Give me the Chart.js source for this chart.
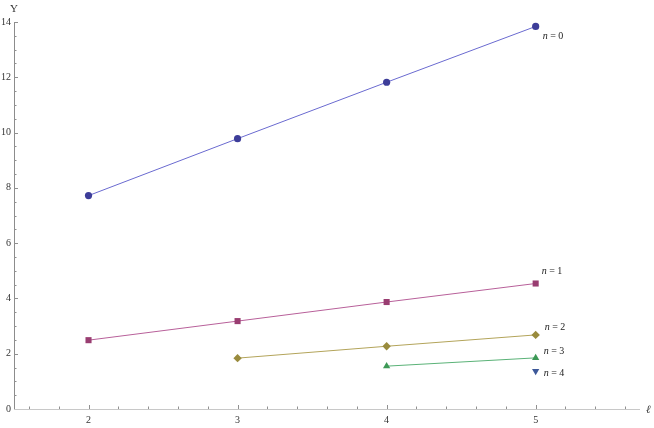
<!DOCTYPE html>
<html>
<head>
<meta charset="utf-8">
<script src="https://cdn.jsdelivr.net/npm/chart.js@4"></script>
<style>
  html, body { margin: 0; padding: 0; background: #ffffff; }
  #wrap { width: 654px; height: 428px; }
  canvas { display: block; }
</style>
</head>
<body>
<div id="wrap"><canvas id="c" width="654" height="428"></canvas></div>
<script>
// ---- data ----
const ellN0 = [2, 3, 4, 5];
const upsN0 = [7.72, 9.78, 11.82, 13.84];
const ellN1 = [2, 3, 4, 5];
const upsN1 = [2.49, 3.18, 3.87, 4.54];
const ellN2 = [3, 4, 5];
const upsN2 = [1.84, 2.27, 2.68];
const ellN3 = [4, 5];
const upsN3 = [1.55, 1.85];
const ellN4 = [5];
const upsN4 = [1.37];
const seriesLabels = ['0', '1', '2', '3', '4'];
const xTickLabels = [2, 3, 4, 5];
const yTickLabels = [0, 2, 4, 6, 8, 10, 12, 14];
const xAxisTitle = 'ℓ';
const yAxisTitle = 'Υ';

// ---- styles ----
const markerColors = ['#3d3d99', '#993d71', '#998b3d', '#3d9956', '#3d5899'];
const lineColors   = ['#6a6ad0', '#b8609a', '#b3a45a', '#5ab277', '#5a75b8'];
const markerStyles = ['circle', 'rect', 'rectRot', 'triangle', 'triangle'];
const markerRot    = [0, 0, 0, 0, 180];
const markerRad    = [3.6, 4.3, 4.2, 4.2, 4.2];
// label offsets in pixels from each series' last point
const labelOff = [[7, 10], [6, -12], [9, -8], [8, -6], [8, 2]];

const ells = [ellN0, ellN1, ellN2, ellN3, ellN4];
const upss = [upsN0, upsN1, upsN2, upsN3, upsN4];

const datasets = ells.map((xs, i) => ({
  label: 'n = ' + seriesLabels[i],
  data: xs.map((x, j) => ({ x: x, y: upss[i][j] })),
  borderColor: lineColors[i],
  borderWidth: 1,
  backgroundColor: markerColors[i],
  pointBackgroundColor: markerColors[i],
  pointBorderColor: markerColors[i],
  pointBorderWidth: 0,
  pointStyle: markerStyles[i],
  pointRotation: markerRot[i],
  pointRadius: markerRad[i],
  pointHoverRadius: markerRad[i],
  showLine: xs.length > 1,
  fill: false,
  tension: 0,
  clip: false
}));

const axisColor = '#a8a8a8';
const tickFont = '10px "Liberation Serif", "DejaVu Serif", serif';
const textColor = '#333333';

const axesPlugin = {
  id: 'mmaAxes',
  beforeDatasetsDraw(chart) {
    const ctx = chart.ctx;
    const xs = chart.scales.x, ys = chart.scales.y;
    const x0 = xs.getPixelForValue(xs.min);
    const x1 = xs.getPixelForValue(xs.max);
    const y0 = ys.getPixelForValue(0);
    const yTop = ys.getPixelForValue(ys.max);
    ctx.save();
    ctx.lineWidth = 1;
    // x axis
    ctx.strokeStyle = '#c8c8c8';
    ctx.beginPath();
    ctx.moveTo(x0, Math.round(y0) + 0.5);
    ctx.lineTo(x1, Math.round(y0) + 0.5);
    ctx.stroke();
    // y axis
    ctx.strokeStyle = '#8c8c8c';
    ctx.beginPath();
    ctx.moveTo(Math.round(x0) + 0.5, y0);
    ctx.lineTo(Math.round(x0) + 0.5, yTop);
    ctx.stroke();
    // x ticks every 0.2
    ctx.strokeStyle = '#909090';
    for (let k = 8; k <= 28; k++) {
      const v = k / 5;
      const px = Math.round(xs.getPixelForValue(v)) + 0.5;
      const major = (k % 5 === 0);
      ctx.beginPath();
      ctx.moveTo(px, y0);
      ctx.lineTo(px, y0 - (major ? 4 : 2.5));
      ctx.stroke();
    }
    // y ticks every 0.5
    for (let k = 1; k <= 28; k++) {
      const v = k / 2;
      const py = Math.round(ys.getPixelForValue(v)) + 0.5;
      const major = (k % 4 === 0);
      ctx.beginPath();
      ctx.moveTo(x0, py);
      ctx.lineTo(x0 + (major ? 4 : 2.5), py);
      ctx.stroke();
    }
    // tick labels
    ctx.fillStyle = textColor;
    ctx.font = tickFont;
    ctx.textAlign = 'center';
    ctx.textBaseline = 'top';
    xTickLabels.forEach(v => {
      ctx.fillText(String(v), xs.getPixelForValue(v), y0 + 6);
    });
    ctx.textAlign = 'right';
    ctx.textBaseline = 'middle';
    yTickLabels.forEach(v => {
      ctx.fillText(String(v), x0 - 3, ys.getPixelForValue(v));
    });
    // axis titles
    ctx.font = '11px "Liberation Serif", "DejaVu Serif", serif';
    ctx.textAlign = 'center';
    ctx.textBaseline = 'middle';
    ctx.fillText(yAxisTitle, x0, yTop - 13);
    ctx.font = 'italic 11px "Liberation Serif", "DejaVu Serif", serif';
    ctx.textAlign = 'left';
    ctx.fillText(xAxisTitle, x1 + 6, y0 + 1);
    ctx.restore();
  },
  afterDatasetsDraw(chart) {
    const ctx = chart.ctx;
    const xs = chart.scales.x, ys = chart.scales.y;
    ctx.save();
    ctx.fillStyle = '#222222';
    ctx.textBaseline = 'middle';
    ctx.textAlign = 'left';
    ells.forEach((xArr, i) => {
      const last = xArr.length - 1;
      const px = xs.getPixelForValue(xArr[last]) + labelOff[i][0];
      const py = ys.getPixelForValue(upss[i][last]) + labelOff[i][1];
      ctx.font = 'italic 10px "Liberation Serif", "DejaVu Serif", serif';
      ctx.fillText('n', px, py);
      const w = ctx.measureText('n').width;
      ctx.font = '10px "Liberation Serif", "DejaVu Serif", serif';
      ctx.fillText(' = ' + seriesLabels[i], px + w, py);
    });
    ctx.restore();
  }
};

new Chart(document.getElementById('c'), {
  type: 'line',
  data: { datasets: datasets },
  options: {
    responsive: false,
    animation: false,
    events: [],
    layout: { padding: { left: 14, right: 14, top: 22, bottom: 19 } },
    plugins: { legend: { display: false }, tooltip: { enabled: false } },
    scales: {
      x: { type: 'linear', min: 1.5, max: 5.7, display: false },
      y: { type: 'linear', min: 0, max: 14, display: false }
    }
  },
  plugins: [axesPlugin]
});
</script>
</body>
</html>
